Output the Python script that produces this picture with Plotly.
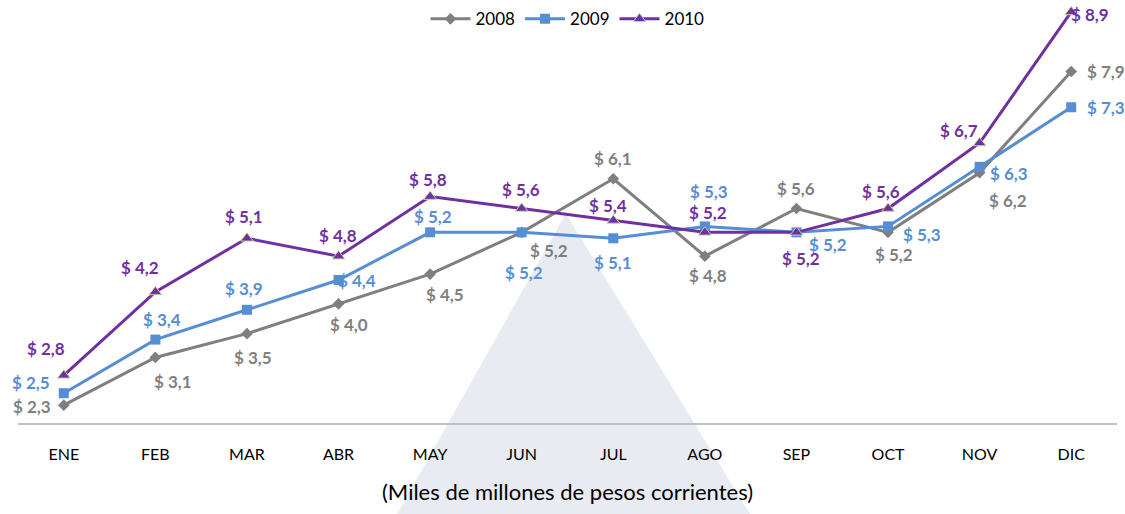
import plotly.graph_objects as go

months = ["ENE", "FEB", "MAR", "ABR", "MAY", "JUN", "JUL", "AGO", "SEP", "OCT", "NOV", "DIC"]
v2008 = [2.3, 3.1, 3.5, 4.0, 4.5, 5.2, 6.1, 4.8, 5.6, 5.2, 6.2, 7.9]
v2009 = [2.5, 3.4, 3.9, 4.4, 5.2, 5.2, 5.1, 5.3, 5.2, 5.3, 6.3, 7.3]
v2010 = [2.8, 4.2, 5.1, 4.8, 5.8, 5.6, 5.4, 5.2, 5.2, 5.6, 6.7, 8.9]

# label pixel offsets (dx, dy downward positive)
off2008 = [(-32, 1), (18, 24), (6, 24), (10, 21), (15, 20), (27, 18), (0, -20), (3, 19), (0, -20), (6, 22), (28, 28), (35, 0)]
off2009 = [(-33, -11), (7, -20), (-3, -21), (18, 0), (3, -16), (2, 40), (0, 24), (4, -35), (32, 12), (34, 8), (29, 7), (35, 0)]
off2010 = [(-18, -27), (-15, -24), (-3, -22), (-1, -21), (-2, -17), (-1, -19), (-5, -15), (3, -20), (5, 26), (-7, -17), (-21, -12), (19, 3)]

C08, C09, C10 = "#7f7f7f", "#558ed5", "#7030a0"
FONT = "Lato"

fig = go.Figure()
fig.add_trace(go.Scatter(x=months, y=v2008, name="2008", mode="lines+markers",
                         line=dict(color=C08, width=3),
                         marker=dict(symbol="diamond", size=9, color=C08)))
fig.add_trace(go.Scatter(x=months, y=v2009, name="2009", mode="lines+markers",
                         line=dict(color=C09, width=3),
                         marker=dict(symbol="square", size=10, color=C09)))
fig.add_trace(go.Scatter(x=months, y=v2010, name="2010", mode="lines+markers",
                         line=dict(color=C10, width=3),
                         marker=dict(symbol="triangle-up", size=11, color=C10,
                                     line=dict(color="#c3d69b", width=1))))

def fmt(v):
    return "$ " + f"{v:.1f}".replace(".", ",")

annots = []
for vals, offs, col in [(v2008, off2008, C08), (v2009, off2009, C09), (v2010, off2010, C10)]:
    for m, v, (dx, dy) in zip(months, vals, offs):
        annots.append(dict(x=m, y=v, xref="x", yref="y", text="<b>" + fmt(v) + "</b>",
                           showarrow=False, xshift=dx, yshift=-dy,
                           font=dict(family=FONT, size=17, color=col)))

annots.append(dict(x=0.5, y=0, xref="paper", yref="paper", yshift=-84,
                   text="(Miles de millones de pesos corrientes)", showarrow=False,
                   font=dict(family=FONT, size=22, color="#000000")))

fig.update_layout(
    width=1125, height=514,
    margin=dict(l=18, r=8, t=0, b=91),
    paper_bgcolor="white", plot_bgcolor="rgba(0,0,0,0)",
    font=dict(family=FONT, color="#000000"),
    showlegend=True,
    legend=dict(orientation="h", x=0.5, xanchor="center", y=0.997, yanchor="top",
                font=dict(family=FONT, size=17, color="#000000"),
                bgcolor="rgba(0,0,0,0)", itemwidth=40, tracegroupgap=0),
    annotations=annots,
    shapes=[dict(type="path", xref="paper", yref="paper", layer="below",
                 path="M 0.345 -0.215 L 0.4985 0.495 L 0.666 -0.215 Z",
                 fillcolor="rgba(228,231,238,0.85)", line=dict(width=0))],
)
fig.update_xaxes(type="category", showgrid=False, zeroline=False,
                 showline=True, linecolor="#bfbfbf", linewidth=1.5,
                 ticks="outside", ticklen=16, tickcolor="rgba(0,0,0,0)",
                 tickfont=dict(family=FONT, size=16, color="#000000"),
                 range=[-0.5, 11.5])
fig.update_yaxes(range=[2.0, 9.1], visible=False, showgrid=False, zeroline=False)

fig.write_html("out.html", config={"displayModeBar": False},
               post_script="document.body.style.margin='0';document.body.style.overflow='hidden';")
